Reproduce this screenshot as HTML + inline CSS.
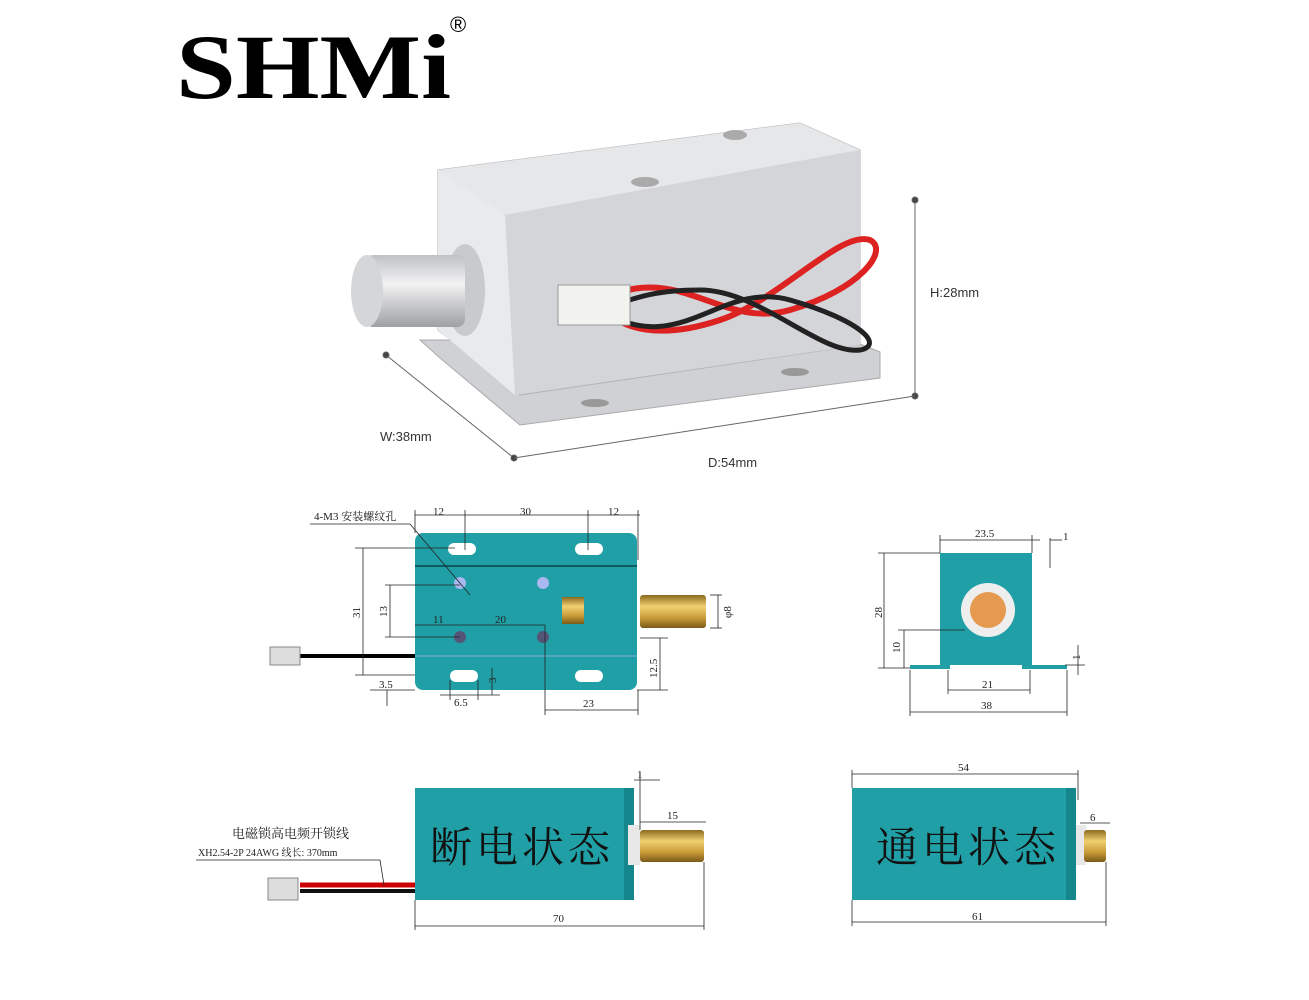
<!DOCTYPE html>
<html><head><meta charset="utf-8"><style>
body{margin:0;background:#fff;width:1309px;height:1000px;overflow:hidden}
svg{display:block}
</style></head><body>
<svg width="1309" height="1000" viewBox="0 0 1309 1000" xmlns="http://www.w3.org/2000/svg">
<defs>
<linearGradient id="gold" x1="0" y1="0" x2="0" y2="1"><stop offset="0" stop-color="#8a6a20"/><stop offset=".35" stop-color="#f0d070"/><stop offset=".7" stop-color="#c89a38"/><stop offset="1" stop-color="#7a5a18"/></linearGradient>
<linearGradient id="silv" x1="0" y1="0" x2="1" y2="1"><stop offset="0" stop-color="#e8e8ea"/><stop offset=".5" stop-color="#c4c6ca"/><stop offset="1" stop-color="#dcdde0"/></linearGradient>
<linearGradient id="pin" x1="0" y1="0" x2="0" y2="1"><stop offset="0" stop-color="#bfc1c4"/><stop offset=".4" stop-color="#f2f2f3"/><stop offset="1" stop-color="#9ea0a4"/></linearGradient>
</defs>
<!-- logo -->
<text x="176" y="98" font-family="Liberation Serif,serif" font-weight="bold" font-size="92" textLength="275" lengthAdjust="spacingAndGlyphs">SHMi</text>
<text x="450" y="32" font-family="Liberation Sans,sans-serif" font-size="22">®</text>
<!-- product photo -->
<polygon points="420,340 440,358 520,425 880,378 880,352 850,340" fill="#cfd1d4" stroke="#aaa"/>
<polygon points="438,170 800,123 860,150 860,345 520,395 438,330" fill="url(#silv)" stroke="#b0b2b5"/>
<polygon points="438,170 800,123 860,150 505,215" fill="#e6e7e9"/>
<polygon points="505,215 860,150 860,345 515,395" fill="#d3d5d8"/>
<polygon points="438,170 505,215 515,395 438,330" fill="#e9eaec"/>
<ellipse cx="465" cy="290" rx="20" ry="46" fill="#c8cacd"/>
<rect x="365" y="255" width="100" height="72" rx="8" fill="url(#pin)"/>
<ellipse cx="367" cy="291" rx="16" ry="36" fill="#d4d6d8"/>
<path d="M600,300 C680,260 720,330 790,310 C860,290 890,250 870,240 C840,230 780,300 720,320 C660,340 620,330 600,305" fill="none" stroke="#d22" stroke-width="6"/>
<path d="M600,310 C680,360 720,280 790,300 C860,320 885,345 860,350 C820,355 760,290 700,290 C650,290 630,300 600,310" fill="none" stroke="#222" stroke-width="5"/>
<rect x="558" y="285" width="72" height="40" fill="#f2f2ee" stroke="#999"/>
<ellipse cx="645" cy="182" rx="14" ry="5" fill="#aaa"/><ellipse cx="735" cy="135" rx="12" ry="5" fill="#aaa"/>
<ellipse cx="595" cy="403" rx="14" ry="4" fill="#999"/><ellipse cx="795" cy="372" rx="14" ry="4" fill="#999"/>
<g stroke="#666" stroke-width="1" fill="#444">
<line x1="915" y1="200" x2="915" y2="396"/><circle cx="915" cy="200" r="3"/><circle cx="915" cy="396" r="3"/>
<line x1="386" y1="355" x2="514" y2="458"/><circle cx="386" cy="355" r="3"/><circle cx="514" cy="458" r="3"/>
<line x1="514" y1="458" x2="915" y2="396"/>
</g>
<g font-family="Liberation Sans,sans-serif" font-size="13" fill="#333">
<text x="930" y="297">H:28mm</text><text x="380" y="441">W:38mm</text><text x="708" y="467">D:54mm</text></g>

<g font-family="Liberation Serif,'Noto Serif CJK SC',serif" font-size="11" fill="#222" stroke="none">
<!-- top view -->
<rect x="415" y="533" width="222" height="157" rx="8" fill="#20a0a6"/>
<line x1="415" y1="566" x2="637" y2="566" stroke="#0c5a5e" stroke-width="2"/>
<line x1="415" y1="656" x2="637" y2="656" stroke="#8ad" stroke-width="1"/>
<rect x="448" y="543" width="28" height="12" rx="6" fill="#fff"/><rect x="575" y="543" width="28" height="12" rx="6" fill="#fff"/>
<rect x="450" y="670" width="28" height="12" rx="6" fill="#fff"/><rect x="575" y="670" width="28" height="12" rx="6" fill="#fff"/>
<circle cx="460" cy="583" r="6" fill="#a9b8f0"/><circle cx="543" cy="583" r="6" fill="#a9b8f0"/>
<circle cx="460" cy="637" r="6" fill="#557"/><circle cx="543" cy="637" r="6" fill="#557"/>
<rect x="562" y="597" width="22" height="27" fill="url(#gold)"/>
<rect x="640" y="595" width="66" height="33" rx="3" fill="url(#gold)"/>
<line x1="300" y1="656" x2="415" y2="656" stroke="#000" stroke-width="4"/>
<rect x="270" y="647" width="30" height="18" fill="#ddd" stroke="#888"/>
<g stroke="#222" stroke-width=".8" fill="none">
<line x1="415" y1="515" x2="640" y2="515"/><line x1="415" y1="510" x2="415" y2="533"/><line x1="465" y1="510" x2="465" y2="550"/><line x1="588" y1="510" x2="588" y2="550"/><line x1="638" y1="510" x2="638" y2="560"/>
<line x1="310" y1="524" x2="410" y2="524"/><line x1="410" y1="524" x2="470" y2="595"/>
<line x1="363" y1="548" x2="363" y2="675"/><line x1="355" y1="548" x2="455" y2="548"/><line x1="355" y1="675" x2="415" y2="675"/>
<line x1="390" y1="585" x2="390" y2="637"/><line x1="385" y1="585" x2="460" y2="585"/><line x1="385" y1="637" x2="460" y2="637"/>
<line x1="415" y1="625" x2="545" y2="625"/><line x1="545" y1="625" x2="545" y2="715"/>
<line x1="545" y1="710" x2="638" y2="710"/><line x1="638" y1="690" x2="638" y2="715"/>
<line x1="640" y1="638" x2="668" y2="638"/><line x1="660" y1="638" x2="660" y2="690"/><line x1="637" y1="690" x2="668" y2="690"/>
<line x1="710" y1="595" x2="722" y2="595"/><line x1="710" y1="628" x2="722" y2="628"/><line x1="718" y1="595" x2="718" y2="628"/>
<line x1="440" y1="695" x2="500" y2="695"/><line x1="492" y1="668" x2="492" y2="695"/><line x1="450" y1="680" x2="450" y2="700"/><line x1="478" y1="680" x2="478" y2="700"/>
<line x1="387" y1="690" x2="387" y2="706"/><line x1="370" y1="690" x2="415" y2="690"/>
</g>
<text x="433" y="515">12</text><text x="520" y="515">30</text><text x="608" y="515">12</text>
<text x="314" y="520">4-M3 安装螺纹孔</text>
<text x="433" y="623">11</text><text x="495" y="623">20</text>
<text x="379" y="688">3.5</text><text x="454" y="706">6.5</text><text x="583" y="707">23</text>
<text transform="translate(360,618) rotate(-90)">31</text><text transform="translate(387,617) rotate(-90)">13</text>
<text transform="translate(657,678) rotate(-90)">12.5</text><text transform="translate(731,618) rotate(-90)">φ8</text>
<text transform="translate(496,683) rotate(-90)">3</text>

<!-- side view -->
<rect x="940" y="553" width="92" height="112" fill="#20a0a6"/>
<rect x="910" y="665" width="40" height="4" fill="#20a0a6"/><rect x="1022" y="665" width="45" height="4" fill="#20a0a6"/>
<circle cx="988" cy="610" r="27" fill="#eee"/><circle cx="988" cy="610" r="18" fill="#e59a50"/>
<g stroke="#222" stroke-width=".8" fill="none">
<line x1="940" y1="540" x2="1040" y2="540"/><line x1="940" y1="535" x2="940" y2="553"/><line x1="1032" y1="535" x2="1032" y2="553"/>
<line x1="884" y1="553" x2="884" y2="668"/><line x1="878" y1="553" x2="940" y2="553"/><line x1="878" y1="668" x2="910" y2="668"/>
<line x1="904" y1="630" x2="904" y2="668"/><line x1="898" y1="630" x2="965" y2="630"/>
<line x1="948" y1="690" x2="1030" y2="690"/><line x1="948" y1="670" x2="948" y2="694"/><line x1="1030" y1="670" x2="1030" y2="694"/>
<line x1="910" y1="712" x2="1067" y2="712"/><line x1="910" y1="670" x2="910" y2="716"/><line x1="1067" y1="670" x2="1067" y2="716"/>
<line x1="1050" y1="538" x2="1050" y2="568"/><line x1="1050" y1="540" x2="1062" y2="540"/>
<line x1="1078" y1="645" x2="1078" y2="675"/><line x1="1065" y1="665" x2="1085" y2="665"/>
</g>
<text x="975" y="537">23.5</text><text x="1063" y="540">1</text>
<text transform="translate(882,618) rotate(-90)">28</text><text transform="translate(900,653) rotate(-90)">10</text>
<text x="982" y="688">21</text><text x="981" y="709">38</text><text transform="translate(1080,660) rotate(-90)">1</text>

<!-- bottom left -->
<rect x="415" y="788" width="217" height="112" fill="#20a0a6"/>
<rect x="624" y="788" width="10" height="112" fill="#15868b"/>
<rect x="640" y="830" width="64" height="32" rx="3" fill="url(#gold)"/>
<rect x="628" y="825" width="12" height="40" fill="#e8e8e8"/>
<text x="430" y="862" font-family="'Noto Serif CJK SC',serif" font-size="42" fill="#111" letter-spacing="4">断电状态</text>
<line x1="300" y1="885" x2="415" y2="885" stroke="#c00" stroke-width="5"/><line x1="300" y1="891" x2="415" y2="891" stroke="#111" stroke-width="4"/>
<rect x="268" y="878" width="30" height="22" fill="#ddd" stroke="#888"/>
<g stroke="#222" stroke-width=".8" fill="none">
<line x1="196" y1="860" x2="380" y2="860"/><line x1="380" y1="860" x2="384" y2="885"/>
<line x1="415" y1="926" x2="704" y2="926"/><line x1="415" y1="900" x2="415" y2="930"/><line x1="704" y1="862" x2="704" y2="930"/>
<line x1="640" y1="822" x2="706" y2="822"/><line x1="640" y1="772" x2="640" y2="830"/><line x1="634" y1="780" x2="660" y2="780"/>
</g>
<text x="232" y="838" font-size="13">电磁锁高电频开锁线</text>
<text x="198" y="856" font-size="10">XH2.54-2P 24AWG 线长: 370mm</text>
<text x="553" y="922">70</text><text x="667" y="819">15</text><text x="637" y="778">1</text>

<!-- bottom right -->
<rect x="852" y="788" width="222" height="112" fill="#20a0a6"/>
<rect x="1066" y="788" width="10" height="112" fill="#15868b"/>
<rect x="1076" y="825" width="10" height="40" fill="#e8e8e8"/>
<rect x="1084" y="830" width="22" height="32" rx="3" fill="url(#gold)"/>
<text x="876" y="862" font-family="'Noto Serif CJK SC',serif" font-size="42" fill="#111" letter-spacing="4">通电状态</text>
<g stroke="#222" stroke-width=".8" fill="none">
<line x1="852" y1="774" x2="1078" y2="774"/><line x1="852" y1="770" x2="852" y2="788"/><line x1="1078" y1="770" x2="1078" y2="800"/>
<line x1="852" y1="922" x2="1106" y2="922"/><line x1="852" y1="900" x2="852" y2="926"/><line x1="1106" y1="862" x2="1106" y2="926"/>
<line x1="1080" y1="823" x2="1110" y2="823"/>
</g>
<text x="958" y="771">54</text><text x="972" y="920">61</text><text x="1090" y="821">6</text>
</g>
</svg>
</body></html>
